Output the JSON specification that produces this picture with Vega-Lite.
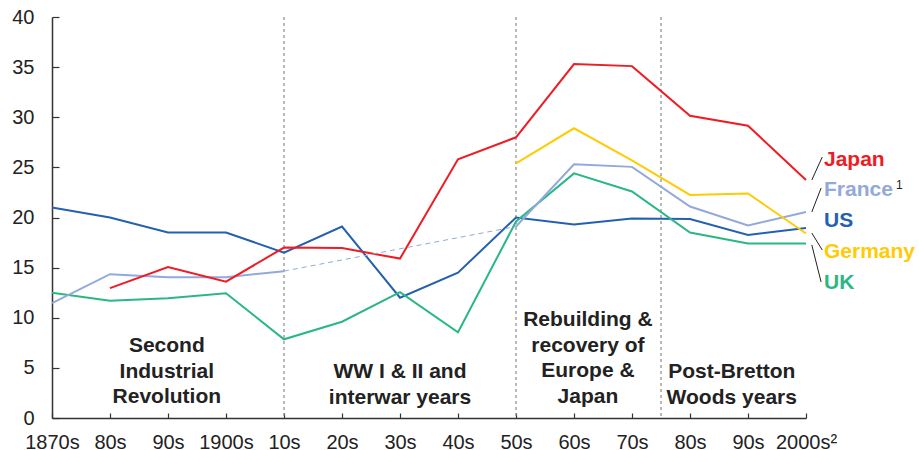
{
  "$schema": "https://vega.github.io/schema/vega-lite/v6.json",
  "width": 754,
  "height": 401,
  "autosize": "none",
  "padding": {"left": 52, "top": 17, "right": 113, "bottom": 32},
  "background": "white",
  "config": {"view": {"stroke": null}, "font": "Liberation Sans"},
  "datasets": {
    "series": [
      {"country": "US", "year": 1870, "value": 21.0, "part": "a"},
      {"country": "US", "year": 1880, "value": 20.0, "part": "a"},
      {"country": "US", "year": 1890, "value": 18.5, "part": "a"},
      {"country": "US", "year": 1900, "value": 18.5, "part": "a"},
      {"country": "US", "year": 1910, "value": 16.5, "part": "a"},
      {"country": "US", "year": 1920, "value": 19.1, "part": "a"},
      {"country": "US", "year": 1930, "value": 12.0, "part": "a"},
      {"country": "US", "year": 1940, "value": 14.5, "part": "a"},
      {"country": "US", "year": 1950, "value": 20.0, "part": "a"},
      {"country": "US", "year": 1960, "value": 19.3, "part": "a"},
      {"country": "US", "year": 1970, "value": 19.9, "part": "a"},
      {"country": "US", "year": 1980, "value": 19.85, "part": "a"},
      {"country": "US", "year": 1990, "value": 18.25, "part": "a"},
      {"country": "US", "year": 2000, "value": 18.95, "part": "a"},
      {"country": "UK", "year": 1870, "value": 12.5, "part": "a"},
      {"country": "UK", "year": 1880, "value": 11.7, "part": "a"},
      {"country": "UK", "year": 1890, "value": 11.95, "part": "a"},
      {"country": "UK", "year": 1900, "value": 12.45, "part": "a"},
      {"country": "UK", "year": 1910, "value": 7.85, "part": "a"},
      {"country": "UK", "year": 1920, "value": 9.6, "part": "a"},
      {"country": "UK", "year": 1930, "value": 12.55, "part": "a"},
      {"country": "UK", "year": 1940, "value": 8.55, "part": "a"},
      {"country": "UK", "year": 1950, "value": 19.6, "part": "a"},
      {"country": "UK", "year": 1960, "value": 24.4, "part": "a"},
      {"country": "UK", "year": 1970, "value": 22.6, "part": "a"},
      {"country": "UK", "year": 1980, "value": 18.5, "part": "a"},
      {"country": "UK", "year": 1990, "value": 17.4, "part": "a"},
      {"country": "UK", "year": 2000, "value": 17.4, "part": "a"},
      {"country": "France", "year": 1870, "value": 11.45, "part": "a"},
      {"country": "France", "year": 1880, "value": 14.35, "part": "a"},
      {"country": "France", "year": 1890, "value": 14.05, "part": "a"},
      {"country": "France", "year": 1900, "value": 14.05, "part": "a"},
      {"country": "France", "year": 1910, "value": 14.65, "part": "a"},
      {"country": "France", "year": 1950, "value": 19.1, "part": "b"},
      {"country": "France", "year": 1960, "value": 25.3, "part": "b"},
      {"country": "France", "year": 1970, "value": 25.05, "part": "b"},
      {"country": "France", "year": 1980, "value": 21.1, "part": "b"},
      {"country": "France", "year": 1990, "value": 19.2, "part": "b"},
      {"country": "France", "year": 2000, "value": 20.55, "part": "b"},
      {"country": "Germany", "year": 1950, "value": 25.4, "part": "a"},
      {"country": "Germany", "year": 1960, "value": 28.9, "part": "a"},
      {"country": "Germany", "year": 1970, "value": 25.7, "part": "a"},
      {"country": "Germany", "year": 1980, "value": 22.25, "part": "a"},
      {"country": "Germany", "year": 1990, "value": 22.4, "part": "a"},
      {"country": "Germany", "year": 2000, "value": 18.4, "part": "a"},
      {"country": "Japan", "year": 1880, "value": 12.95, "part": "a"},
      {"country": "Japan", "year": 1890, "value": 15.05, "part": "a"},
      {"country": "Japan", "year": 1900, "value": 13.6, "part": "a"},
      {"country": "Japan", "year": 1910, "value": 17.0, "part": "a"},
      {"country": "Japan", "year": 1920, "value": 16.95, "part": "a"},
      {"country": "Japan", "year": 1930, "value": 15.9, "part": "a"},
      {"country": "Japan", "year": 1940, "value": 25.8, "part": "a"},
      {"country": "Japan", "year": 1950, "value": 28.0, "part": "a"},
      {"country": "Japan", "year": 1960, "value": 35.3, "part": "a"},
      {"country": "Japan", "year": 1970, "value": 35.1, "part": "a"},
      {"country": "Japan", "year": 1980, "value": 30.15, "part": "a"},
      {"country": "Japan", "year": 1990, "value": 29.15, "part": "a"},
      {"country": "Japan", "year": 2000, "value": 23.75, "part": "a"}
    ],
    "dividers": [{"year": 1910}, {"year": 1950}, {"year": 1975}],
    "periods": [
      {"text": "Second\nIndustrial\nRevolution", "year": 1889.8, "value": 6.58},
      {"text": "WW I & II and\ninterwar years", "year": 1930, "value": 3.96},
      {"text": "Rebuilding &\nrecovery of\nEurope &\nJapan", "year": 1962.4, "value": 9.18},
      {"text": "Post-Bretton\nWoods years", "year": 1987.2, "value": 3.96}
    ],
    "labels": [
      {"country": "Japan", "text": "Japan", "year": 2003.1, "value": 25.74},
      {"country": "France", "text": "France", "year": 2003.1, "value": 22.72},
      {"country": "US", "text": "US", "year": 2003.1, "value": 19.65},
      {"country": "Germany", "text": "Germany", "year": 2003.1, "value": 16.56},
      {"country": "UK", "text": "UK", "year": 2003.1, "value": 13.5}
    ],
    "notes": [
      {"text": "1", "year": 2003.1, "value": 22.72}
    ],
    "leaders": [
      {"country": "Japan", "year": 2001.0, "value": 23.74, "year2": 2002.8, "value2": 26.03},
      {"country": "France", "year": 2001.0, "value": 20.55, "year2": 2002.6, "value2": 22.94},
      {"country": "Germany", "year": 2001.0, "value": 18.45, "year2": 2002.8, "value2": 16.76},
      {"country": "UK", "year": 2001.0, "value": 17.26, "year2": 2002.6, "value2": 13.57}
    ]
  },
  "encoding": {
    "x": {
      "field": "year", "type": "quantitative", "title": null,
      "scale": {"domain": [1870, 2000], "nice": false, "zero": false},
      "axis": {
        "values": [1870, 1880, 1890, 1900, 1910, 1920, 1930, 1940, 1950, 1960, 1970, 1980, 1990, 2000],
        "format": "d",
        "labelExpr": "datum.value == 1870 ? '1870s' : datum.value == 1900 ? '1900s' : datum.value == 2000 ? '2000s²' : slice(datum.label, 2) + 's'",
        "title": null, "grid": false,
        "domainColor": "#333", "domainWidth": 1.5,
        "tickColor": "#333", "tickWidth": 1.2, "tickSize": -5,
        "labelPadding": 19, "labelFontSize": 20, "labelColor": "#222",
        "labelFont": "Liberation Sans", "labelFlush": false, "labelOverlap": false
      }
    }
  },
  "layer": [
    {
      "data": {"name": "dividers"},
      "mark": {"type": "rule", "color": "#8a8a8a", "strokeWidth": 1.2, "strokeDash": [3, 3]}
    },
    {
      "data": {"name": "series"},
      "mark": {"type": "line", "strokeWidth": 2},
      "encoding": {
        "y": {
          "field": "value", "type": "quantitative", "title": null,
          "scale": {"domain": [0, 40], "nice": false},
          "axis": {
            "values": [0, 5, 10, 15, 20, 25, 30, 35, 40],
            "title": null, "grid": false,
            "domainColor": "#333", "domainWidth": 1.5,
            "tickColor": "#333", "tickWidth": 1.2, "tickSize": -7,
            "labelPadding": 25, "labelFontSize": 20, "labelColor": "#222",
            "labelFont": "Liberation Sans", "labelFlush": false, "labelOverlap": false
          }
        },
        "color": {
          "field": "country", "type": "nominal",
          "scale": {"domain": ["Japan", "France", "US", "Germany", "UK"], "range": ["#ee1c25", "#93a9d9", "#2460b0", "#ffcb05", "#2bb783"]},
          "legend": null
        },
        "detail": {"field": "part"}
      }
    },
    {
      "data": {"name": "series"},
      "transform": [{"filter": "datum.country == 'France' && (datum.year == 1910 || datum.year == 1950)"}],
      "mark": {"type": "line", "strokeWidth": 1, "strokeDash": [5, 4], "color": "#93a9d9"},
      "encoding": {
        "y": {"field": "value", "type": "quantitative", "title": null}
      }
    },
    {
      "data": {"name": "leaders"},
      "mark": {"type": "rule", "color": "#222", "strokeWidth": 1},
      "encoding": {
        "x2": {"field": "year2"},
        "y": {"field": "value", "type": "quantitative", "title": null},
        "y2": {"field": "value2"}
      }
    },
    {
      "data": {"name": "labels"},
      "mark": {"type": "text", "align": "left", "baseline": "middle", "fontSize": 21, "fontWeight": "bold", "font": "Liberation Sans"},
      "encoding": {
        "y": {"field": "value", "type": "quantitative", "title": null},
        "text": {"field": "text"},
        "color": {"field": "country", "type": "nominal", "legend": null}
      }
    },
    {
      "data": {"name": "notes"},
      "mark": {"type": "text", "align": "left", "baseline": "middle", "fontSize": 12, "color": "#222", "dx": 72, "dy": -5, "font": "Liberation Sans"},
      "encoding": {
        "y": {"field": "value", "type": "quantitative", "title": null},
        "text": {"field": "text"}
      }
    },
    {
      "data": {"name": "periods"},
      "mark": {"type": "text", "align": "center", "baseline": "alphabetic", "fontSize": 21, "fontWeight": "bold", "lineBreak": "\n", "lineHeight": 25.7, "color": "#222", "font": "Liberation Sans"},
      "encoding": {
        "y": {"field": "value", "type": "quantitative", "title": null},
        "text": {"field": "text"}
      }
    }
  ]
}
